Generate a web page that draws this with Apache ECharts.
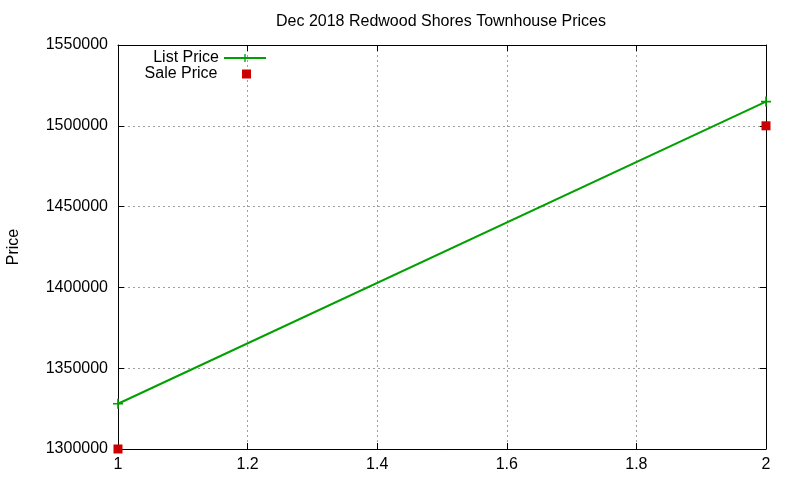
<!DOCTYPE html>
<html>
<head>
<meta charset="utf-8">
<script src="https://cdn.jsdelivr.net/npm/echarts@6/dist/echarts.min.js"></script>
<style>
  html, body { margin: 0; padding: 0; background: #fff; }
  #chart { width: 800px; height: 480px; }
</style>
</head>
<body>
<div id="chart"></div>
<script>
var xValues = [1, 2];
var listPrice = [1328000, 1515000];
var salePrice = [1300000, 1500000];

var plusIcon = 'path://M4,0h1.6v4h4v1.6h-4v4h-1.6v-4h-4v-1.6h4z';
var squareIcon = 'path://M0,0h10v10h-10z';
var font = 'Liberation Sans, Arial, sans-serif';

function pairs(xs, ys) {
  var out = [];
  for (var i = 0; i < xs.length; i++) {
    out.push([xs[i], ys[i]]);
  }
  return out;
}

var gridLine = { show: true, lineStyle: { color: '#a0a0a0', type: [2, 3], width: 1 } };
var frame = { show: true, onZero: false, lineStyle: { color: '#000', width: 1 } };
var ticks = { show: true, inside: true, length: 6, lineStyle: { color: '#000' } };

var option = {
  animation: false,
  backgroundColor: '#fff',
  title: {
    text: 'Dec 2018 Redwood Shores Townhouse Prices',
    left: 436,
    textAlign: 'center',
    top: 9,
    textStyle: { fontFamily: font, fontSize: 16, fontWeight: 'normal', color: '#000' }
  },
  grid: { left: 118, right: 34, top: 45, bottom: 31, outerBoundsMode: 'none', containLabel: false },
  legend: [
    {
      data: ['List Price'],
      right: 528, top: 45, align: 'right', orient: 'vertical',
      itemWidth: 42, itemHeight: 10,
      textStyle: { fontFamily: font, fontSize: 16, color: '#000' }
    },
    {
      data: [{ name: 'Sale Price', icon: squareIcon }],
      right: 544, top: 61, align: 'right', orient: 'vertical',
      itemWidth: 42, itemHeight: 9, itemGap: 7,
      textStyle: { fontFamily: font, fontSize: 16, color: '#000', padding: [0, 3, 0, 0] }
    }
  ],
  xAxis: [
    {
      type: 'value', min: 1, max: 2, interval: 0.2,
      axisLine: frame, axisTick: ticks, splitLine: gridLine,
      axisLabel: { color: '#000', fontFamily: font, fontSize: 16, margin: 8,
        formatter: function (v) { return String(Math.round(v * 10) / 10); } }
    },
    {
      type: 'value', position: 'top', min: 1, max: 2, interval: 0.2,
      axisLine: frame, axisTick: ticks, splitLine: { show: false }, axisLabel: { show: false }
    }
  ],
  yAxis: [
    {
      type: 'value', min: 1300000, max: 1550000, interval: 50000,
      name: 'Price', nameLocation: 'middle', nameGap: 96, nameMoveOverlap: false,
      nameTextStyle: { fontFamily: font, fontSize: 16, color: '#000' },
      axisLine: frame, axisTick: ticks, splitLine: gridLine,
      axisLabel: { color: '#000', fontFamily: font, fontSize: 16, margin: 10,
        formatter: function (v) { return String(v); } }
    },
    {
      type: 'value', position: 'right', min: 1300000, max: 1550000, interval: 50000,
      axisLine: frame, axisTick: ticks, splitLine: { show: false }, axisLabel: { show: false }
    }
  ],
  series: [
    {
      name: 'List Price',
      type: 'line',
      data: pairs(xValues, listPrice),
      symbol: plusIcon,
      symbolSize: 10,
      showAllSymbol: true,
      clip: false,
      color: '#00a000',
      lineStyle: { color: '#00a000', width: 2 },
      itemStyle: { color: '#00a000' }
    },
    {
      name: 'Sale Price',
      type: 'scatter',
      data: pairs(xValues, salePrice),
      symbol: squareIcon,
      symbolSize: 9,
      clip: false,
      z: 5,
      color: '#cc0000',
      itemStyle: { color: '#cc0000', opacity: 1 }
    }
  ]
};

var myChart = echarts.init(document.getElementById('chart'));
myChart.setOption(option);
</script>
</body>
</html>
